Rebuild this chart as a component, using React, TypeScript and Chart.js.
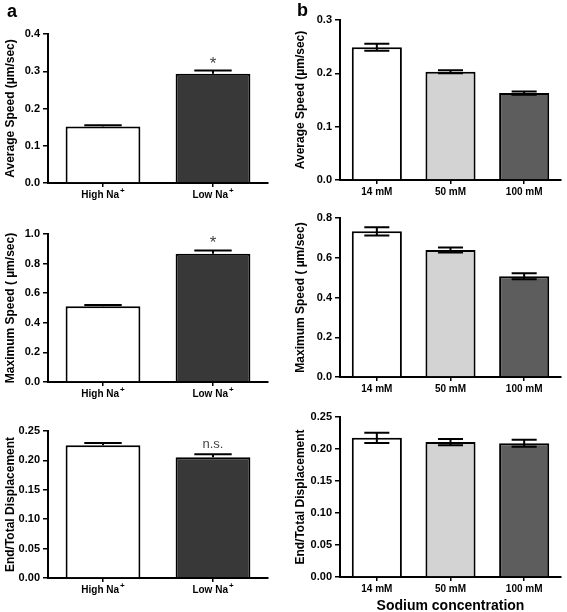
import React, { useEffect, useRef } from 'react';
import { Chart, registerables } from 'chart.js';

Chart.register(...registerables);

const FONT = "'Liberation Sans', Arial, Helvetica, sans-serif";

// ---------- Panel a: High vs Low Na+ ----------
const naCategories = ['High Na⁺', 'Low Na⁺'];
const naColors = ['#ffffff', '#383838'];

const naAvgSpeed = [0.152, 0.293];
const naAvgSpeedErr = [0.003, 0.009];
const naAvgMarks = ['', '*'];

const naMaxSpeed = [0.511, 0.867];
const naMaxSpeedErr = [0.01, 0.022];
const naMaxMarks = ['', '*'];

const naEndTotal = [0.2257, 0.2053];
const naEndTotalErr = [0.004, 0.005];
const naEndMarks = ['', 'n.s.'];

// ---------- Panel b: sodium concentration ----------
const concCategories = ['14 mM', '50 mM', '100 mM'];
const concColors = ['#ffffff', '#d3d3d3', '#5d5d5d'];

const concAvgSpeed = [0.249, 0.203, 0.163];
const concAvgSpeedErr = [0.0065, 0.003, 0.003];

const concMaxSpeed = [0.733, 0.639, 0.507];
const concMaxSpeedErr = [0.021, 0.013, 0.015];

const concEndTotal = [0.2175, 0.2108, 0.209];
const concEndTotalErr = [0.008, 0.005, 0.0055];

// y-axis ranges (max, step, decimals)
const avgAxisA = [0.4, 0.1, 1];
const maxAxisA = [1.0, 0.2, 1];
const endAxis = [0.25, 0.05, 2];
const avgAxisB = [0.3, 0.1, 1];
const maxAxisB = [0.8, 0.2, 1];

const titleAvg = 'Average Speed (µm/sec)';
const titleMax = 'Maximum Speed ( µm/sec)';
const titleEnd = 'End/Total Displacement';
const xTitleB = 'Sodium concentration';

type PanelCfg = {
  left: number; top: number; width: number; height: number;
  padTop: number; padRight: number; yW: number; xH: number;
  labels: string[]; values: number[]; errors: number[]; colors: string[];
  marks?: string[]; bothSides: boolean; axis: number[]; yTitle: string;
  xTitle?: string; tag?: string; tagPos?: [number, number];
};

function makePlugin(p: PanelCfg) {
  return {
    id: 'panelExtras',
    afterDatasetsDraw(chart: any) {
      const ctx = chart.ctx;
      const meta = chart.getDatasetMeta(0);
      const ys = chart.scales.y;
      ctx.save();
      meta.data.forEach((bar: any, i: number) => {
        const { x, width } = bar.getProps(['x', 'width'], true);
        const v = p.values[i];
        const e = p.errors[i];
        const yTop = ys.getPixelForValue(v + e);
        const yBot = ys.getPixelForValue(p.bothSides ? v - e : v);
        const half = width / 4;
        ctx.strokeStyle = '#000';
        ctx.lineWidth = 2;
        ctx.beginPath();
        ctx.moveTo(x, yTop);
        ctx.lineTo(x, yBot);
        ctx.moveTo(x - half, yTop);
        ctx.lineTo(x + half, yTop);
        if (p.bothSides) {
          ctx.moveTo(x - half, yBot);
          ctx.lineTo(x + half, yBot);
        }
        ctx.stroke();
        const m = p.marks ? p.marks[i] : '';
        if (m) {
          ctx.fillStyle = '#444';
          ctx.textAlign = 'center';
          ctx.textBaseline = 'alphabetic';
          if (m === '*') {
            ctx.font = `17px ${FONT}`;
            ctx.fillText(m, x, yTop - 2);
          } else {
            ctx.font = `13px ${FONT}`;
            ctx.fillText(m, x, yTop - 6);
          }
        }
      });
      ctx.restore();
    },
    afterDraw(chart: any) {
      const ctx = chart.ctx;
      const xs = chart.scales.x;
      const base = chart.chartArea.bottom + 15;
      ctx.save();
      ctx.fillStyle = '#000';
      ctx.textBaseline = 'alphabetic';
      ctx.textAlign = 'left';
      p.labels.forEach((lab, i) => {
        const cx = xs.getPixelForValue(i);
        const hasSup = lab.endsWith('⁺');
        const main = hasSup ? lab.slice(0, -1) : lab;
        ctx.font = `bold 10px ${FONT}`;
        const wMain = ctx.measureText(main).width;
        ctx.font = `bold 8px ${FONT}`;
        const wSup = hasSup ? ctx.measureText('+').width + 1 : 0;
        const x0 = cx - (wMain + wSup) / 2;
        ctx.font = `bold 10px ${FONT}`;
        ctx.fillText(main, x0, base);
        if (hasSup) {
          ctx.font = `bold 8px ${FONT}`;
          ctx.fillText('+', x0 + wMain + 1, base - 5.5);
        }
      });
      if (p.tag && p.tagPos) {
        ctx.font = `bold 18px ${FONT}`;
        ctx.fillText(p.tag, p.tagPos[0], p.tagPos[1]);
      }
      ctx.restore();
    },
  };
}

function Panel({ p }: { p: PanelCfg }) {
  const ref = useRef<HTMLCanvasElement | null>(null);
  useEffect(() => {
    if (!ref.current) return;
    const [yMax, yStep, dec] = p.axis;
    const chart = new Chart(ref.current, {
      type: 'bar',
      data: {
        labels: p.labels,
        datasets: [
          {
            data: p.values,
            backgroundColor: p.colors,
            borderColor: '#000',
            borderWidth: 2,
            categoryPercentage: 1,
            barPercentage: 0.68,
          },
        ],
      },
      options: {
        animation: false,
        responsive: false,
        devicePixelRatio: 1,
        events: [],
        layout: { padding: { top: p.padTop, right: p.padRight, left: 0, bottom: 0 } },
        plugins: { legend: { display: false }, tooltip: { enabled: false }, title: { display: false } },
        scales: {
          x: {
            z: 1,
            offset: true,
            grid: { display: true, drawOnChartArea: false, drawTicks: true, tickLength: 4, offset: false, color: '#000', lineWidth: 1.5 },
            border: { display: true, color: '#000', width: 2 },
            ticks: { display: false },
            title: {
              display: !!p.xTitle,
              text: p.xTitle || '',
              color: '#000',
              font: { family: FONT, size: 14, weight: 'bold' },
              padding: { top: 0, bottom: 2.5 },
            },
            afterFit: (s: any) => { s.height = p.xH; },
          },
          y: {
            min: 0,
            max: yMax,
            grid: { display: true, drawOnChartArea: false, drawTicks: true, tickLength: 5, color: '#000', lineWidth: 1.5 },
            border: { display: true, color: '#000', width: 2 },
            ticks: {
              stepSize: yStep,
              color: '#000',
              padding: 3,
              font: { family: FONT, size: 11, weight: 'bold' },
              callback: (v: any) => Number(v).toFixed(dec),
            },
            title: {
              display: true,
              text: p.yTitle,
              color: '#000',
              font: { family: FONT, size: 12, weight: 'bold' },
              padding: { top: 3, bottom: 0 },
            },
            afterFit: (s: any) => { s.width = p.yW; },
          },
        },
      },
      plugins: [makePlugin(p)],
    } as any);
    return () => chart.destroy();
  }, [p]);
  return (
    <canvas
      ref={ref}
      width={p.width}
      height={p.height}
      style={{ position: 'absolute', left: p.left, top: p.top, width: p.width, height: p.height }}
    />
  );
}

const panels: PanelCfg[] = [
  { left: 0, top: 0, width: 272, height: 213, padTop: 34, padRight: 4, yW: 48, xH: 30,
    labels: naCategories, values: naAvgSpeed, errors: naAvgSpeedErr, colors: naColors, marks: naAvgMarks,
    bothSides: false, axis: avgAxisA, yTitle: titleAvg, tag: 'a', tagPos: [7, 17] },
  { left: 0, top: 210, width: 272, height: 202, padTop: 24, padRight: 4, yW: 48, xH: 30,
    labels: naCategories, values: naMaxSpeed, errors: naMaxSpeedErr, colors: naColors, marks: naMaxMarks,
    bothSides: false, axis: maxAxisA, yTitle: titleMax },
  { left: 0, top: 410, width: 272, height: 198, padTop: 21, padRight: 4, yW: 48, xH: 30,
    labels: naCategories, values: naEndTotal, errors: naEndTotalErr, colors: naColors, marks: naEndMarks,
    bothSides: false, axis: endAxis, yTitle: titleEnd },
  { left: 290, top: 0, width: 275, height: 210, padTop: 20, padRight: 4, yW: 50, xH: 30,
    labels: concCategories, values: concAvgSpeed, errors: concAvgSpeedErr, colors: concColors,
    bothSides: true, axis: avgAxisB, yTitle: titleAvg, tag: 'b', tagPos: [7, 16] },
  { left: 290, top: 208, width: 275, height: 199, padTop: 10, padRight: 4, yW: 50, xH: 30,
    labels: concCategories, values: concMaxSpeed, errors: concMaxSpeedErr, colors: concColors,
    bothSides: true, axis: maxAxisB, yTitle: titleMax },
  { left: 290, top: 407, width: 275, height: 210, padTop: 10, padRight: 4, yW: 50, xH: 40,
    labels: concCategories, values: concEndTotal, errors: concEndTotalErr, colors: concColors,
    bothSides: true, axis: endAxis, yTitle: titleEnd, xTitle: xTitleB },
];

export default function App() {
  return (
    <div style={{ position: 'absolute', left: 0, top: 0, width: 567, height: 612, background: '#fff', overflow: 'hidden' }}>
      {panels.map((p, i) => (
        <Panel key={i} p={p} />
      ))}
    </div>
  );
}
